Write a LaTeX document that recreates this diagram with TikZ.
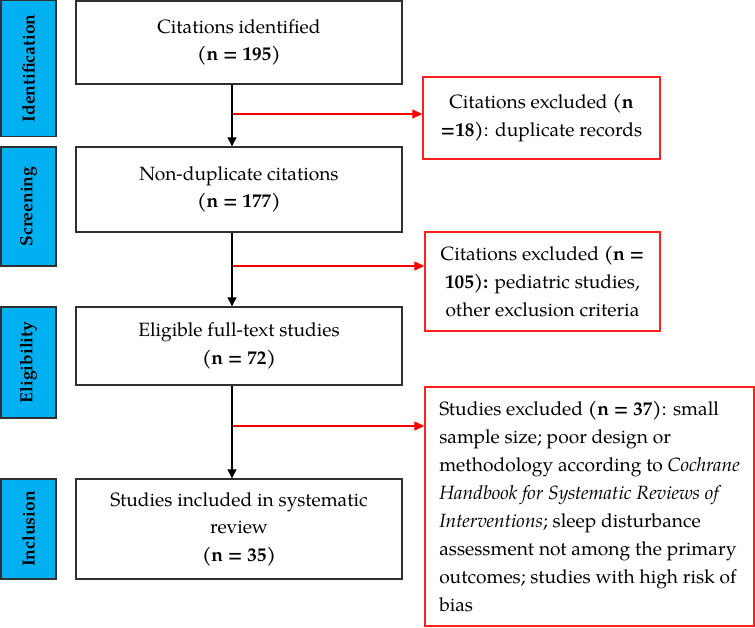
\documentclass[tikz,border=0pt]{standalone}
\usepackage{fontspec}
\setmainfont{texgyrepagella}[Extension=.otf, UprightFont=*-regular, BoldFont=*-bold, ItalicFont=*-italic, BoldItalicFont=*-bolditalic]
\usetikzlibrary{arrows.meta}
\definecolor{stageblue}{HTML}{00B0F0}
\definecolor{boxline}{HTML}{303030}
\definecolor{exred}{HTML}{FF2020}
\tikzset{
  stagebox/.style={draw=boxline, fill=stageblue, line width=1.4pt, minimum width=55pt, inner sep=0pt,
    font=\fontsize{17.5}{20}\selectfont\bfseries},
  mainbox/.style={draw=boxline, line width=1.4pt, minimum width=326pt, align=center, inner sep=0pt,
    font=\fontsize{19.2}{27.5}\selectfont},
  exbox/.style={draw=exred, line width=1.4pt, align=center, inner sep=0pt,
    font=\fontsize{19.2}{28}\selectfont},
  flow/.style={line width=1.3pt, draw=black, -{Triangle[width=9pt,length=9pt]}},
  exflow/.style={line width=1.3pt, draw=red, -{Triangle[width=9pt,length=10pt]}}
}
\begin{document}
\begin{tikzpicture}[x=1pt, y=-1pt]
\useasboundingbox (0,0) rectangle (755,627);
% stage labels
\node[stagebox, minimum height=136pt] (s1) at (28.5,68.5) {\rotatebox{90}{Identification}};
\node[stagebox, minimum height=119pt] (s2) at (28.5,206.5) {\rotatebox{90}{Screening}};
\node[stagebox, minimum height=111pt] (s3) at (28.5,362.5) {\rotatebox{90}{Eligibility}};
\node[stagebox, minimum height=100pt] (s4) at (28.5,529) {\rotatebox{90}{Inclusion}};
% main boxes
\node[mainbox, minimum height=83pt] (b1) at (239,42.5) {Citations identified\\\textbf{(n = 195)}};
\node[mainbox, minimum height=85pt] (b2) at (239,189.5) {Non-duplicate citations\\\textbf{(n = 177)}};
\node[mainbox, minimum height=78pt] (b3) at (239,346) {Eligible full-text studies\\\textbf{(n = 72)}};
\node[mainbox, minimum height=100pt] (b4) at (239,529) {Studies included in systematic\\review\\\textbf{(n = 35)}};
% exclusion boxes
\node[exbox, minimum width=237pt, minimum height=82pt] (r1) at (541.5,118) {Citations excluded \textbf{(n}\\\textbf{=18)}: duplicate records};
\node[exbox, minimum width=235pt, minimum height=99pt] (r2) at (542.5,281.5) {Citations excluded \textbf{(n =}\\\textbf{105):} pediatric studies,\\other exclusion criteria};
\node[exbox, minimum width=329pt, minimum height=239pt, align=left] (r3) at (589.5,506.5) {Studies excluded \textbf{(n = 37)}: small\\sample size; poor design or\\methodology according to \textit{Cochrane}\\\textit{Handbook for Systematic Reviews of}\\\textit{Interventions}; sleep disturbance\\assessment not among the primary\\outcomes; studies with high risk of\\bias};
% arrows
\coordinate (ax) at (232,0);
\draw[flow] (b1.south -| ax) -- (b2.north -| ax);
\draw[flow] (b2.south -| ax) -- (b3.north -| ax);
\draw[flow] (b3.south -| ax) -- (b4.north -| ax);
\coordinate (e1) at (233,114);
\coordinate (e2) at (233,266);
\coordinate (e3) at (233,426);
\draw[exflow] (e1) -- (e1 -| r1.west);
\draw[exflow] (e2) -- (e2 -| r2.west);
\draw[exflow] (e3) -- (e3 -| r3.west);
\end{tikzpicture}
\end{document}
